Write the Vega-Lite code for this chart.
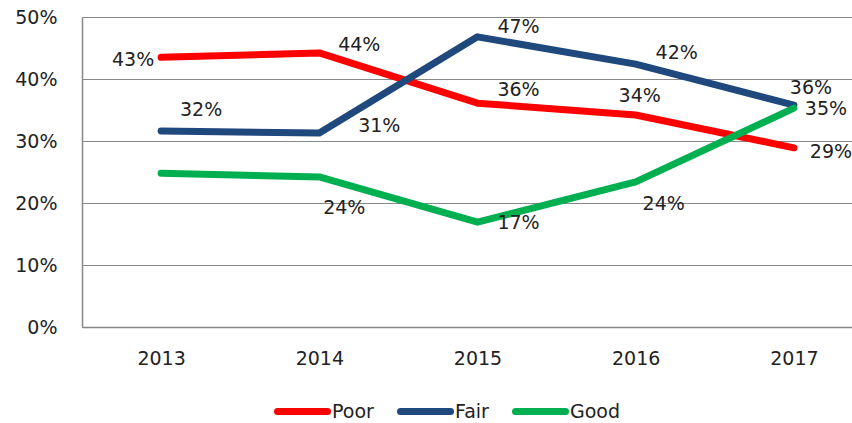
{
  "$schema": "https://vega.github.io/schema/vega-lite/v6.json",
  "autosize": "none",
  "width": 791,
  "height": 310,
  "padding": {"left": 82, "top": 17, "right": 0, "bottom": 96},
  "background": "white",
  "config": {"view": {"stroke": null}, "font": "DejaVu Sans"},
  "data": {
    "values": [
      {"series": "Poor", "year": "2013", "value": 0.435, "label": "43%"},
      {"series": "Poor", "year": "2014", "value": 0.442, "label": "44%"},
      {"series": "Poor", "year": "2015", "value": 0.361, "label": "36%"},
      {"series": "Poor", "year": "2016", "value": 0.342, "label": "34%"},
      {"series": "Poor", "year": "2017", "value": 0.289, "label": "29%"},
      {"series": "Fair", "year": "2013", "value": 0.316, "label": "32%"},
      {"series": "Fair", "year": "2014", "value": 0.313, "label": "31%"},
      {"series": "Fair", "year": "2015", "value": 0.468, "label": "47%"},
      {"series": "Fair", "year": "2016", "value": 0.424, "label": "42%"},
      {"series": "Fair", "year": "2017", "value": 0.358, "label": "36%"},
      {"series": "Good", "year": "2013", "value": 0.248, "label": ""},
      {"series": "Good", "year": "2014", "value": 0.242, "label": "24%"},
      {"series": "Good", "year": "2015", "value": 0.169, "label": "17%"},
      {"series": "Good", "year": "2016", "value": 0.234, "label": "24%"},
      {"series": "Good", "year": "2017", "value": 0.353, "label": "35%"}
    ]
  },
  "encoding": {
    "x": {
      "field": "year", "type": "ordinal",
      "scale": {"type": "point", "padding": 0.5},
      "axis": {"title": null, "labelAngle": 0, "ticks": false, "grid": false, "domainColor": "#888888", "domainWidth": 1.5, "labelFont": "DejaVu Sans", "labelFontSize": 19, "labelColor": "#222222", "labelPadding": 22}
    },
    "y": {
      "field": "value", "type": "quantitative",
      "scale": {"domain": [0, 0.5]},
      "axis": {"title": null, "format": ".0%", "values": [0, 0.1, 0.2, 0.3, 0.4, 0.5], "grid": true, "gridColor": "#888888", "gridWidth": 1.2, "domainColor": "#888888", "domainWidth": 1.5, "ticks": false, "labelFont": "DejaVu Sans", "labelFontSize": 19, "labelColor": "#222222", "labelPadding": 25}
    }
  },
  "layer": [
    {
      "mark": {"type": "line", "strokeWidth": 7, "strokeCap": "round", "strokeJoin": "round"},
      "encoding": {
        "color": {
          "field": "series", "type": "nominal",
          "scale": {"domain": ["Poor", "Fair", "Good"], "range": ["#FF0000", "#1F497D", "#00B050"]},
          "legend": {
            "title": null, "orient": "none", "direction": "horizontal",
            "legendX": 192, "legendY": 366,
            "gridAlign": "none",
            "symbolType": "stroke", "symbolSize": 2500, "symbolStrokeWidth": 7,
            "labelFont": "DejaVu Sans", "labelFontSize": 19, "labelColor": "#222222",
            "labelOffset": 1, "columnPadding": 12,
            "encode": {"symbols": {"update": {"strokeCap": {"value": "round"}}}}
          }
        }
      }
    },
    {"transform": [{"filter": "datum.series=='Poor' && datum.year=='2013'"}], "mark": {"type": "text", "dx": -28, "dy": 3, "fontSize": 19, "color": "#222222"}, "encoding": {"text": {"field": "label"}}},
    {"transform": [{"filter": "datum.series=='Poor' && datum.year=='2014'"}], "mark": {"type": "text", "dx": 40, "dy": -8, "fontSize": 19, "color": "#222222"}, "encoding": {"text": {"field": "label"}}},
    {"transform": [{"filter": "datum.series=='Poor' && datum.year=='2015'"}], "mark": {"type": "text", "dx": 41, "dy": -13, "fontSize": 19, "color": "#222222"}, "encoding": {"text": {"field": "label"}}},
    {"transform": [{"filter": "datum.series=='Poor' && datum.year=='2016'"}], "mark": {"type": "text", "dx": 4, "dy": -19, "fontSize": 19, "color": "#222222"}, "encoding": {"text": {"field": "label"}}},
    {"transform": [{"filter": "datum.series=='Poor' && datum.year=='2017'"}], "mark": {"type": "text", "dx": 37, "dy": 4, "fontSize": 19, "color": "#222222"}, "encoding": {"text": {"field": "label"}}},
    {"transform": [{"filter": "datum.series=='Fair' && datum.year=='2013'"}], "mark": {"type": "text", "dx": 40, "dy": -21, "fontSize": 19, "color": "#222222"}, "encoding": {"text": {"field": "label"}}},
    {"transform": [{"filter": "datum.series=='Fair' && datum.year=='2014'"}], "mark": {"type": "text", "dx": 60, "dy": -7, "fontSize": 19, "color": "#222222"}, "encoding": {"text": {"field": "label"}}},
    {"transform": [{"filter": "datum.series=='Fair' && datum.year=='2015'"}], "mark": {"type": "text", "dx": 41, "dy": -10, "fontSize": 19, "color": "#222222"}, "encoding": {"text": {"field": "label"}}},
    {"transform": [{"filter": "datum.series=='Fair' && datum.year=='2016'"}], "mark": {"type": "text", "dx": 41, "dy": -11, "fontSize": 19, "color": "#222222"}, "encoding": {"text": {"field": "label"}}},
    {"transform": [{"filter": "datum.series=='Fair' && datum.year=='2017'"}], "mark": {"type": "text", "dx": 17, "dy": -17, "fontSize": 19, "color": "#222222"}, "encoding": {"text": {"field": "label"}}},
    {"transform": [{"filter": "datum.series=='Good' && datum.year=='2014'"}], "mark": {"type": "text", "dx": 25, "dy": 31, "fontSize": 19, "color": "#222222"}, "encoding": {"text": {"field": "label"}}},
    {"transform": [{"filter": "datum.series=='Good' && datum.year=='2015'"}], "mark": {"type": "text", "dx": 41, "dy": 1, "fontSize": 19, "color": "#222222"}, "encoding": {"text": {"field": "label"}}},
    {"transform": [{"filter": "datum.series=='Good' && datum.year=='2016'"}], "mark": {"type": "text", "dx": 28, "dy": 22, "fontSize": 19, "color": "#222222"}, "encoding": {"text": {"field": "label"}}},
    {"transform": [{"filter": "datum.series=='Good' && datum.year=='2017'"}], "mark": {"type": "text", "dx": 32, "dy": 1, "fontSize": 19, "color": "#222222"}, "encoding": {"text": {"field": "label"}}}
  ]
}
